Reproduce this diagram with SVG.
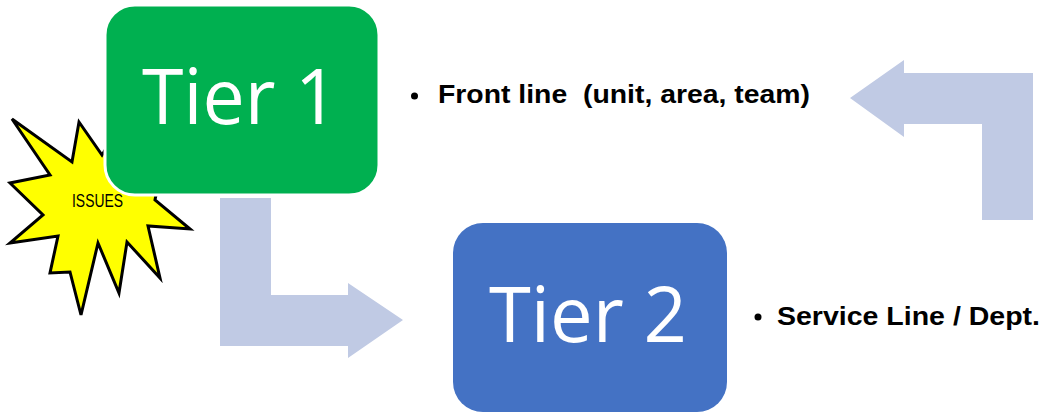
<svg xmlns="http://www.w3.org/2000/svg" width="1042" height="414" viewBox="0 0 1042 414">
  <style>
    .arrow { fill: #c0cae4; }
    .tier { font-family: "Open Sans", "Liberation Sans", Arial, sans-serif; font-size: 76px; fill: #ffffff; }
    .label { font-family: "Liberation Sans", Arial, sans-serif; font-size: 25px; font-weight: bold; fill: #000000; white-space: pre; }
    .issues { font-family: "Liberation Sans", Arial, sans-serif; font-size: 18px; fill: #000000; }
  </style>
  <rect width="1042" height="414" fill="#ffffff"/>
  <g id="connectors">
    <polygon class="arrow" points="220,198 271,198 271,295 348,295 348,283 403,320 348,358 348,346 220,346"/>
    <polygon class="arrow" points="1033,73 1033,220 982,220 982,124 904,124 904,137 850,98 904,60 904,73"/>
  </g>
  <g id="issues">
    <polygon points="12,119 72,162 79,122 102,155 130,110 140,165 165,150 155,200 190,229 148,226 160,278 127,242 119,293 98,243 81,315 70,272 50,273 58,236 10,243 43,215 10,183 50,175" fill="#ffff00" stroke="#000000" stroke-width="3" stroke-linejoin="miter"/>
    <text class="issues" x="72" y="207" textLength="51" lengthAdjust="spacingAndGlyphs">ISSUES</text>
  </g>
  <g id="tier1">
    <rect x="105" y="5" width="274" height="190" rx="30" ry="30" fill="#00b050" stroke="#ffffff" stroke-width="3"/>
    <text class="tier" x="142" y="124" textLength="196" lengthAdjust="spacingAndGlyphs">Tier 1</text>
  </g>
  <g id="tier2">
    <rect x="453" y="223" width="274" height="189" rx="30" ry="30" fill="#4472c4"/>
    <text class="tier" x="489" y="342" textLength="198" lengthAdjust="spacingAndGlyphs">Tier 2</text>
  </g>
  <g id="tier1-label">
    <circle cx="414.5" cy="96" r="3.5" fill="#000000"/>
    <text class="label" x="438" y="103" textLength="372" lengthAdjust="spacingAndGlyphs" xml:space="preserve">Front line  (unit, area, team)</text>
  </g>
  <g id="tier2-label">
    <circle cx="758" cy="317" r="3.5" fill="#000000"/>
    <text class="label" x="777" y="325" textLength="263" lengthAdjust="spacingAndGlyphs">Service Line / Dept.</text>
  </g>
</svg>
